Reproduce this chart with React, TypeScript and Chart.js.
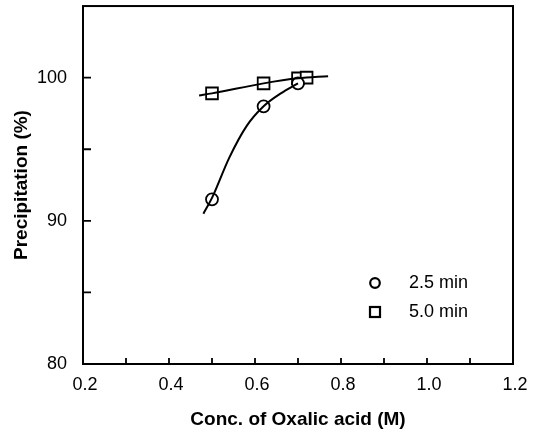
import React, { useEffect, useRef } from "react";
import { Chart, registerables } from "chart.js";

Chart.register(...registerables);

// Measured points
const circleX = [0.5, 0.62, 0.7];
const circleY = [91.5, 98.0, 99.6];
const squareX = [0.5, 0.62, 0.7, 0.72];
const squareY = [98.9, 99.6, 99.95, 100.0];

// Fitted curves
const circleFitX = [0.48, 0.5, 0.54, 0.58, 0.62, 0.66, 0.7];
const circleFitY = [90.5, 91.6, 94.4, 96.6, 98.0, 98.9, 99.6];
const squareFitX = [0.47, 0.5, 0.62, 0.7, 0.77];
const squareFitY = [98.75, 98.9, 99.6, 99.95, 100.1];

const xTickLabels = ["0.2", "0.4", "0.6", "0.8", "1.0", "1.2"];
const yTickLabels = ["80", "90", "100"];
const legendLabels = ["2.5 min", "5.0 min"];
const xTitle = "Conc. of Oxalic acid (M)";
const yTitle = "Precipitation (%)";

const FONT = "'Liberation Sans', Arial, Helvetica, sans-serif";
const SHIFT = 10; // canvas is drawn 10px taller and moved up

const zip = (xs: number[], ys: number[]) => xs.map((x, i) => ({ x, y: ys[i] }));

const yLabelFor = (v: any) => {
  const n = Math.round(Number(v));
  if (n % 10 !== 0 || n > 100) return "";
  return yTickLabels[(n - 80) / 10] ?? "";
};
const xLabelFor = (v: any) => {
  const i = Math.round(Number(v) * 10);
  if (i % 2 !== 0) return "";
  return xTickLabels[(i - 2) / 2] ?? "";
};

const framePlugin = {
  id: "frameTicks",
  afterDraw(chart: any) {
    const { ctx, chartArea } = chart;
    const { left, right, top, bottom } = chartArea;
    const xs = chart.scales.x;
    const ys = chart.scales.y;
    ctx.save();
    ctx.strokeStyle = "#000";
    ctx.lineWidth = 2;
    ctx.strokeRect(left, top, right - left, bottom - top);
    ctx.lineWidth = 1.8;
    ctx.beginPath();
    xs.ticks.forEach((t: any) => {
      const v = t.value;
      if (v <= xs.min + 1e-6 || v >= xs.max - 1e-6) return;
      const px = xs.getPixelForValue(v);
      ctx.moveTo(px, bottom);
      ctx.lineTo(px, bottom - 6);
    });
    ys.ticks.forEach((t: any) => {
      const v = t.value;
      if (v <= ys.min + 1e-6 || v >= ys.max - 1e-6) return;
      const py = ys.getPixelForValue(v);
      ctx.moveTo(left, py);
      ctx.lineTo(left + 8, py);
    });
    ctx.stroke();

    // legend
    ctx.lineWidth = 2.2;
    ctx.fillStyle = "#000";
    ctx.font = `18px ${FONT}`;
    ctx.textBaseline = "middle";
    ctx.textAlign = "left";
    const mx = 375;
    const rows = [283 + SHIFT, 312 + SHIFT];
    ctx.beginPath();
    ctx.arc(mx, rows[0], 4.8, 0, Math.PI * 2);
    ctx.stroke();
    ctx.strokeRect(mx - 5, rows[1] - 5, 10, 10);
    ctx.fillText(legendLabels[0], 409, rows[0]);
    ctx.fillText(legendLabels[1], 409, rows[1]);
    ctx.restore();
  },
};

export default function App() {
  const ref = useRef<HTMLCanvasElement | null>(null);
  useEffect(() => {
    document.body.style.margin = "0";
    if (!ref.current) return;
    const chart = new Chart(ref.current, {
      type: "scatter",
      data: {
        datasets: [
          {
            type: "line",
            label: "fit 2.5",
            data: zip(circleFitX, circleFitY),
            borderColor: "#000",
            borderWidth: 2,
            pointRadius: 0,
            cubicInterpolationMode: "monotone",
            fill: false,
          } as any,
          {
            type: "line",
            label: "fit 5.0",
            data: zip(squareFitX, squareFitY),
            borderColor: "#000",
            borderWidth: 2,
            pointRadius: 0,
            cubicInterpolationMode: "monotone",
            fill: false,
          } as any,
          {
            label: legendLabels[0],
            data: zip(circleX, circleY),
            pointStyle: "circle",
            pointRadius: 6,
            pointBorderWidth: 1.8,
            pointBorderColor: "#000",
            pointBackgroundColor: "#fff",
            showLine: false,
          },
          {
            label: legendLabels[1],
            data: zip(squareX, squareY),
            pointStyle: "rect",
            pointRadius: 8.3,
            pointBorderWidth: 1.8,
            pointBorderColor: "#000",
            pointBackgroundColor: "#fff",
            showLine: false,
          },
        ],
      },
      plugins: [framePlugin],
      options: {
        responsive: false,
        animation: false,
        layout: { padding: { left: 0, right: 28, top: 6, bottom: 0 } },
        plugins: { legend: { display: false }, tooltip: { enabled: false } },
        scales: {
          x: {
            type: "linear",
            min: 0.2,
            max: 1.2,
            afterFit: (s: any) => {
              s.height = 70;
            },
            grid: { display: false, drawTicks: false },
            border: { display: false },
            ticks: {
              stepSize: 0.1,
              autoSkip: false,
              maxRotation: 0,
              padding: 10,
              labelOffset: 2,
              color: "#000",
              font: { family: FONT, size: 18 },
              callback: (v: any) => xLabelFor(v),
            },
            title: {
              display: true,
              text: xTitle,
              color: "#000",
              font: { family: FONT, size: 19, weight: "bold" },
              padding: { top: 3, bottom: 3 },
            },
          },
          y: {
            type: "linear",
            min: 80,
            max: 105,
            afterFit: (s: any) => {
              s.width = 83;
            },
            grid: { display: false, drawTicks: false },
            border: { display: false },
            ticks: {
              stepSize: 5,
              autoSkip: false,
              padding: 16,
              color: "#000",
              font: (c: any) =>
                yLabelFor(c.tick ? c.tick.value : 0) === ""
                  ? { family: FONT, size: 1, lineHeight: 0.1 }
                  : { family: FONT, size: 18 },
              callback: (v: any) => yLabelFor(v),
            },
            title: {
              display: true,
              text: yTitle,
              color: "#000",
              font: { family: FONT, size: 19, weight: "bold" },
              padding: { top: 10, bottom: 10 },
            },
          },
        },
      },
    });
    return () => chart.destroy();
  }, []);
  return (
    <div style={{ width: 541, height: 434, background: "#fff", overflow: "hidden" }}>
      <canvas
        ref={ref}
        width={541}
        height={434 + SHIFT}
        style={{ display: "block", marginTop: -SHIFT }}
      />
    </div>
  );
}
